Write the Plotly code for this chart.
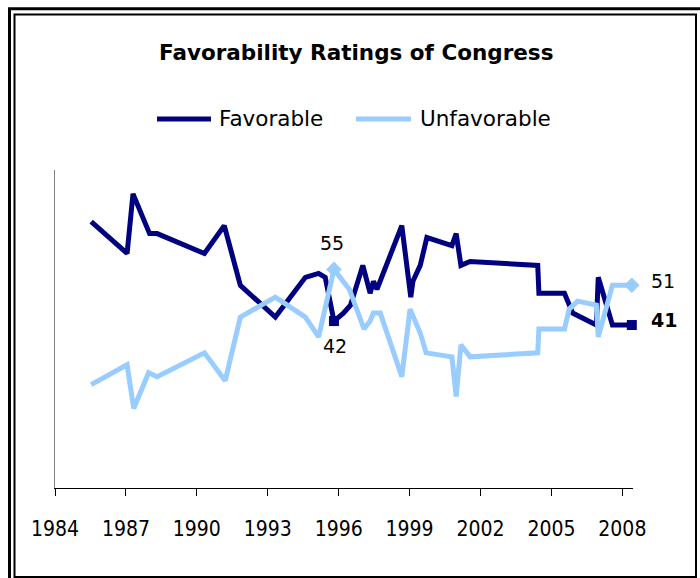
import plotly.graph_objects as go

# ---------------- data ----------------
fav_years = [1985.53, 1987.05, 1987.3, 1988.0, 1988.32, 1990.32, 1991.16, 1991.84,
             1993.32, 1994.59, 1995.15, 1995.43, 1995.8, 1996.2, 1996.5, 1997.02,
             1997.33, 1997.47, 1997.62, 1998.67, 1999.05, 1999.14, 1999.45, 1999.73,
             2000.79, 2000.97, 2001.17, 2001.56, 2004.42, 2004.47, 2005.55, 2005.9,
             2006.9, 2006.98, 2007.58, 2008.4]
fav_values = [67, 59, 74, 64, 64, 59, 66, 51,
              43, 53, 54, 53, 42, 44, 46, 56,
              49, 52, 50, 66, 48, 52, 56, 63,
              61, 64, 56, 57, 56, 49, 49, 44,
              41, 53, 41, 41]

unfav_years = [1985.53, 1987.05, 1987.33, 1987.96, 1988.32, 1990.32, 1991.2, 1991.84,
               1993.32, 1994.59, 1995.15, 1995.8, 1996.45, 1997.07, 1997.33, 1997.47,
               1997.76, 1998.67, 1999.02, 1999.45, 1999.7, 2000.79, 2000.97, 2001.17,
               2001.56, 2004.42, 2004.47, 2005.55, 2005.75, 2006.1, 2006.9, 2006.98,
               2007.58, 2008.4]
unfav_values = [26, 31, 20, 29, 28, 34, 27, 43,
                48, 43, 38, 55, 50, 40, 42, 44,
                44, 28, 45, 39, 34, 33, 23, 36,
                33, 34, 40, 40, 45, 47, 46, 38,
                51, 51]

series_names = ["Favorable", "Unfavorable"]
tick_years = [1984, 1987, 1990, 1993, 1996, 1999, 2002, 2005, 2008]
title_text = "Favorability Ratings of Congress"

# indices of labelled points
fav_labelled = [12, len(fav_values) - 1]
unfav_labelled = [11, len(unfav_values) - 1]

# ---------------- style ----------------
NAVY = "#000080"
LIGHT = "#99CCFF"
W, H = 700, 578
ML, MR, MT, MB = 55, 67, 170, 90
PW, PH = W - ML - MR, H - MT - MB
FONT = "DejaVu Sans, Verdana, sans-serif"
TICKFONT = "DejaVu Sans Condensed, Liberation Sans, Arial, sans-serif"


def px(x, y):
    return (x - ML) / PW, (H - MB - y) / PH


fig = go.Figure()
fig.add_trace(go.Scatter(x=fav_years, y=fav_values, mode="lines", name=series_names[0],
                         line=dict(color=NAVY, width=5), showlegend=False, cliponaxis=False))
fig.add_trace(go.Scatter(x=unfav_years, y=unfav_values, mode="lines", name=series_names[1],
                         line=dict(color=LIGHT, width=5), showlegend=False, cliponaxis=False))
fig.add_trace(go.Scatter(x=[unfav_years[i] for i in unfav_labelled],
                         y=[unfav_values[i] for i in unfav_labelled],
                         mode="markers", marker=dict(symbol="diamond", size=12, color=LIGHT),
                         showlegend=False, cliponaxis=False, hoverinfo="skip"))
fig.add_trace(go.Scatter(x=[fav_years[i] for i in fav_labelled],
                         y=[fav_values[i] for i in fav_labelled],
                         mode="markers", marker=dict(symbol="square", size=10, color=NAVY),
                         showlegend=False, cliponaxis=False, hoverinfo="skip"))

annotations = []
# data labels
i = unfav_labelled[0]
annotations.append(dict(x=unfav_years[i], y=unfav_values[i], text=str(unfav_values[i]),
                        showarrow=False, yshift=26, xshift=-2,
                        font=dict(family=FONT, size=19, color="black")))
i = fav_labelled[0]
annotations.append(dict(x=fav_years[i], y=fav_values[i], text=str(fav_values[i]),
                        showarrow=False, yshift=-25, xshift=1,
                        font=dict(family=FONT, size=19, color="black")))
i = unfav_labelled[1]
annotations.append(dict(x=unfav_years[i], y=unfav_values[i], text=str(unfav_values[i]),
                        showarrow=False, xshift=31, yshift=4,
                        font=dict(family=FONT, size=19, color="black")))
i = fav_labelled[1]
annotations.append(dict(x=fav_years[i], y=fav_values[i], text="<b>%d</b>" % fav_values[i],
                        showarrow=False, xshift=32, yshift=5,
                        font=dict(family=FONT, size=19, color="black")))

# title
tx, ty = px(356, 52)
annotations.append(dict(xref="paper", yref="paper", x=tx, y=ty, text="<b>%s</b>" % title_text,
                        showarrow=False, xanchor="center", yanchor="middle",
                        font=dict(family=FONT, size=21.5, color="black")))

# legend (manual)
shapes = []
legend_items = [(157, 211, 217, NAVY, series_names[0]),
                (356, 411, 418, LIGHT, series_names[1])]
for x0, x1, xt, col, name in legend_items:
    a0, b0 = px(x0, 119)
    a1, _ = px(x1, 119)
    shapes.append(dict(type="line", xref="paper", yref="paper", x0=a0, x1=a1, y0=b0, y1=b0,
                       line=dict(color=col, width=5)))
    at, _ = px(xt, 119)
    annotations.append(dict(xref="paper", yref="paper", x=at, y=b0, text=name,
                            showarrow=False, xanchor="left", yanchor="middle",
                            font=dict(family=FONT, size=21.5, color="black")))

# frame
ox0, oy0 = px(9.5, 8.7)
ox1, oy1 = px(705, 584)
shapes.append(dict(type="rect", xref="paper", yref="paper", x0=ox0, y0=oy0, x1=ox1, y1=oy1,
                   line=dict(color="black", width=3), layer="below"))
ix0, iy0 = px(14.5, 14.5)
ix1, iy1 = px(696, 577)
shapes.append(dict(type="rect", xref="paper", yref="paper", x0=ix0, y0=iy0, x1=ix1, y1=iy1,
                   line=dict(color="black", width=2), layer="below"))

fig.update_layout(
    width=W, height=H,
    margin=dict(l=ML, r=MR, t=MT, b=MB, pad=0),
    paper_bgcolor="white", plot_bgcolor="white",
    annotations=annotations, shapes=shapes,
    showlegend=False,
    xaxis=dict(range=[1984, 2008.45], tickvals=tick_years, ticktext=[str(t) for t in tick_years],
               showgrid=False, zeroline=False, showline=True, linecolor="black", linewidth=1,
               ticks="outside", ticklen=7, tickcolor="black", tickwidth=1,
               ticklabelstandoff=15,
               tickfont=dict(family=TICKFONT, size=21, color="black")),
    yaxis=dict(range=[0, 80], showgrid=False, zeroline=False, showline=True,
               linecolor="#808080", linewidth=1, showticklabels=False, ticks=""),
)

fig.write_html("out.html", config={"displayModeBar": False},
               post_script="document.body.style.margin='0px';")
